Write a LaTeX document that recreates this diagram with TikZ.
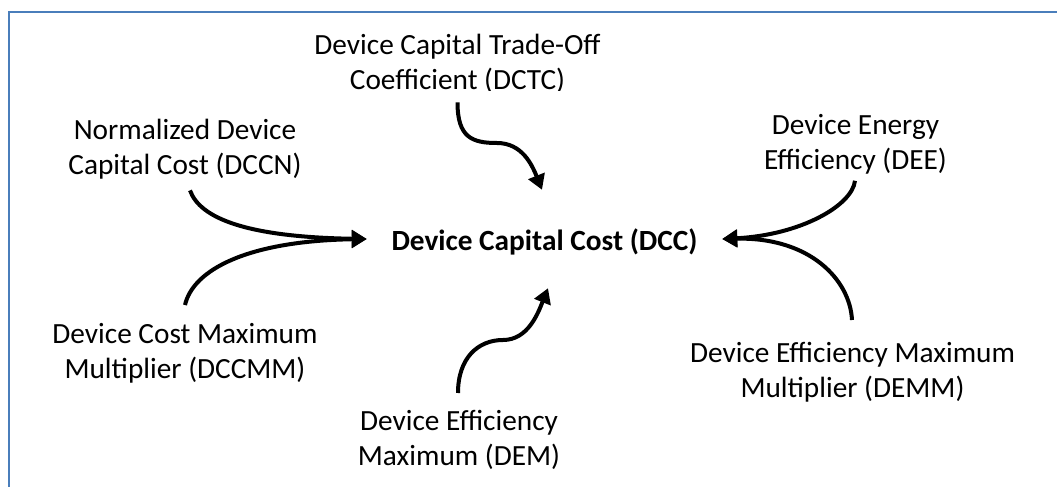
\documentclass[tikz,border=0pt]{standalone}
\usepackage{fontspec}
\setmainfont{Carlito}
\usetikzlibrary{arrows.meta}
\definecolor{frameblue}{RGB}{74,126,187}
\begin{document}
\begin{tikzpicture}[x=1pt,y=-1pt,
  lbl/.style={font=\fontsize{29.3}{35.7}\selectfont, align=center, inner sep=0pt, anchor=north},
  link/.style={line width=4pt, -{Triangle[length=15pt,width=17pt]}}]
\useasboundingbox (0,0) rectangle (1057,487);

% frame of the text box
\draw[frameblue, line width=2.5pt] (9,495) -- (9,12) -- (1065,12);

% central quantity
\node[font=\fontsize{29.3}{35.7}\selectfont\bfseries, inner sep=0pt,
      text height=22pt, text depth=0pt, minimum width=355pt, minimum height=98pt]
      (dcc) at (544.5,239) {Device Capital Cost (DCC)};

% inputs
\begin{scope}
  \clip (300,0) rectangle (640,90.5);
  \node[lbl] (dctc) at (457.5,29) {\strut Device Capital Trade-Off\\Coefficient (DCTC)\strut};
\end{scope}
\node[lbl] (dccn)  at (185,114)   {\strut Normalized Device\\Capital Cost (DCCN)\strut};
\node[lbl] (dee)   at (855.5,109) {\strut Device Energy\\Efficiency (DEE)\strut};
\node[lbl] (dccmm) at (185,318)   {\strut Device Cost Maximum\\Multiplier (DCCMM)\strut};
\node[lbl] (demm)  at (852.5,337) {\strut Device Efficiency Maximum\\Multiplier (DEMM)\strut};
\node[lbl] (dem)   at (459,405)   {\strut Device Efficiency\\Maximum (DEM)\strut};

% influences
\draw[link] ([yshift=-1.6pt]dctc.south) .. controls +(0,35) and +(-25,0) .. (497,143)
            .. controls +(25,0) and +(-10,-25) .. ([xshift=-2.5pt]dcc.north);
\draw[link] ([xshift=5pt,yshift=-4.6pt]dccn.south) .. controls +(10,28) and +(-120,-2) .. (dcc.west);
\draw[link] ([yshift=13pt]dccmm.north) .. controls +(8,-35) and +(-120,2) .. (dcc.west);
\draw[link] ([xshift=-0.5pt]dee.south) .. controls +(-3,25) and +(78,-4) .. (dcc.east);
\draw[link] ([xshift=-0.5pt,yshift=17pt]demm.north) .. controls +(-2,-40) and +(88,-2) .. (dcc.east);
\draw[link] ([xshift=-1pt,yshift=12pt]dem.north) .. controls +(0,-35) and +(-25,0) .. (503,340)
            .. controls +(25,0) and +(-10,25) .. ([xshift=3.5pt]dcc.south);
\end{tikzpicture}
\end{document}
